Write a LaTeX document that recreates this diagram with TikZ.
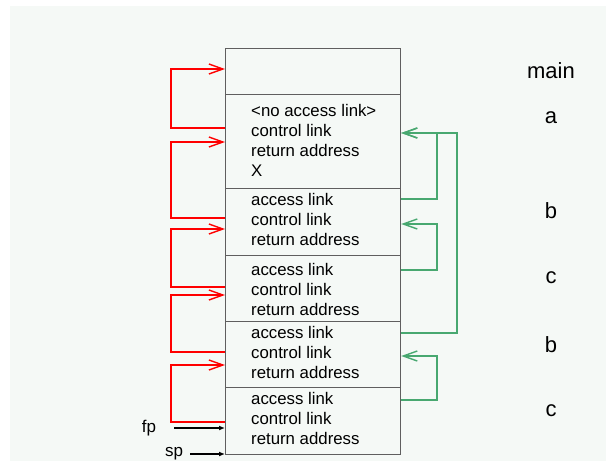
\documentclass[tikz,border=0pt]{standalone}
\usepackage{fontspec}
\setmainfont{Liberation Sans}
\usetikzlibrary{arrows.meta}
\definecolor{bgc}{RGB}{245,249,246}
\definecolor{grn}{RGB}{72,168,112}
\definecolor{frm}{RGB}{95,95,95}
\begin{document}
\begin{tikzpicture}[x=1pt,y=-1pt,
  frame/.style={draw=frm, line width=1.2pt, rectangle, minimum width=175pt, inner sep=0pt, anchor=north west},
  txt/.style={anchor=west, align=left, inner sep=0pt, font=\fontsize{16.8}{20}\selectfont},
  lbl/.style={inner sep=0pt, font=\fontsize{22}{26}\selectfont},
  ptrlbl/.style={inner sep=0pt, font=\fontsize{17}{20}\selectfont},
  ctl/.style={draw=red, line width=1.4pt, -{Straight Barb[length=14pt,width=10pt,line width=1.4pt]}},
  acc/.style={draw=grn, line width=1.4pt, -{Straight Barb[length=14pt,width=10pt,line width=1.4pt]}},
  ptr/.style={draw=black, line width=1.4pt, -{Latex[length=6pt,width=5pt]}}
]
\useasboundingbox (0,0) rectangle (606,461);
\fill[white] (0,0) rectangle (606,461);
\fill[bgc] (10,6) rectangle (606,461);

% frames
\node[frame, minimum height=46pt] (fm)  at (225,48)  {};
\node[frame, minimum height=94pt] (fa)  at (225,94)  {};
\node[frame, minimum height=67pt] (fb1) at (225,188) {};
\node[frame, minimum height=66pt] (fc1) at (225,255) {};
\node[frame, minimum height=66pt] (fb2) at (225,321) {};
\node[frame, minimum height=67pt] (fc2) at (225,387) {};

% frame contents
\node[txt] (ta)  at (251,140) {<no access link>\\control link\\return address\\X};
\node[txt] (tb1) at (251,219) {access link\\control link\\return address};
\node[txt] (tc1) at (251,289) {access link\\control link\\return address};
\node[txt] (tb2) at (251,352) {access link\\control link\\return address};
\node[txt] (tc2) at (251,418) {access link\\control link\\return address};

% procedure labels
\node[lbl] (lm)  at (551,71) {main};
\node[lbl] (la)  at (551,117.5) {a};
\node[lbl] (lb1) at (551,210.5) {b};
\node[lbl] (lc1) at (551,277.5) {c};
\node[lbl] (lb2) at (551,344.5) {b};
\node[lbl] (lc2) at (551,410.5) {c};

% control links
\draw[ctl] (fa.west |- 0,128)  -- (171,128) |- (fm.west |- 0,69);
\draw[ctl] (fb1.west |- 0,218) -- (171,218) |- (fa.west |- 0,142);
\draw[ctl] (fc1.west |- 0,287) -- (171,287) |- (fb1.west |- 0,229);
\draw[ctl] (fb2.west |- 0,352) -- (171,352) |- (fc1.west |- 0,295);
\draw[ctl] (fc2.west |- 0,422) -- (171,422) |- (fb2.west |- 0,365);

% access links
\draw[acc] (fb1.east |- 0,199) -- (437,199) |- (fa.east |- 0,133);
\draw[acc] (fc1.east |- 0,270) -- (437,270) |- (fb1.east |- 0,224);
\draw[acc] (fb2.east |- 0,333) -- (457,333) |- (fa.east |- 0,133);
\draw[acc] (fc2.east |- 0,400) -- (437,400) |- (fb2.east |- 0,356);

% fp and sp
\node[ptrlbl] (fp) at (149,428) {fp};
\node[ptrlbl, anchor=base] (sp) at (174,456.5) {sp};
\coordinate (fpa) at (174,428);
\coordinate (spa) at (190,454);
\draw[ptr] (fpa) -- (fpa -| fc2.west);
\draw[ptr] (spa) -- (spa -| fc2.west);
\end{tikzpicture}
\end{document}
